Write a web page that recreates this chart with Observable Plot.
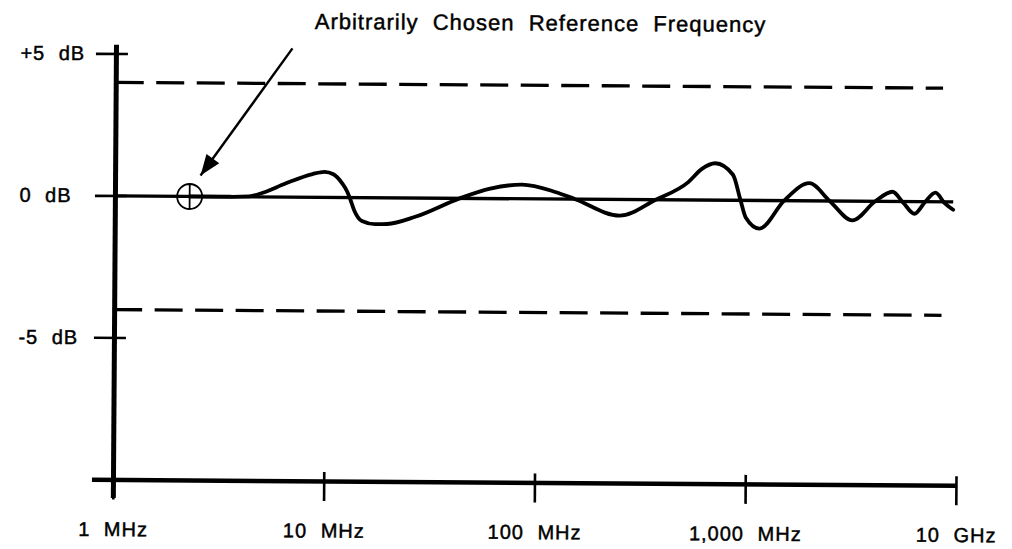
<!DOCTYPE html>
<html>
<head>
<meta charset="utf-8">
<script src="https://cdn.jsdelivr.net/npm/d3@7"></script>
<script src="https://cdn.jsdelivr.net/npm/@observablehq/plot@0.6"></script>
<style>
  html, body { margin: 0; padding: 0; background: #fff; }
  #chart svg { display: block; transform: rotate(0.4deg); transform-origin: 506px 274.5px; }
</style>
</head>
<body>
<div id="chart"></div>
<script>
// ---- data (frequency in MHz, response in dB) ----
const curveFreqMHz = [2.25, 3.5, 4.3, 5.0, 6.4, 8.6, 9.8, 10.8, 11.9, 12.6, 13.0, 13.6, 14.8, 17.1, 19.5, 26.5,
  43, 60, 85, 122, 152, 247, 366, 522, 603, 700, 850, 925, 980, 1140, 1490, 1960, 2450, 3140, 4030, 4860, 5480,
  6190, 6970, 7780, 8600, 9450];
const curveDb = [0, 0, 0.02, 0.15, 0.48, 0.82, 0.9, 0.82, 0.5, 0.2, -0.05, -0.45, -0.82, -0.93, -0.92, -0.66,
  0, 0.35, 0.5, 0.25, 0, -0.57, 0, 0.63, 1.09, 1.3, 0.9, 0, -0.6, -0.99, 0, 0.62, 0, -0.68, 0, 0.34, -0.05,
  -0.43, 0, 0.32, -0.05, -0.28];

const xTicks = [1, 10, 100, 1000, 10000];
const xTickLabels = ["1 MHz", "10 MHz", "100 MHz", "1,000 MHz", "10 GHz"];
const yTicks = [5, 0, -5, -10];
const yTickLabels = ["+5 dB", "0 dB", "-5 dB", ""];

const limitDb = [4, -4];
const limitEndMHz = 8430;
const zeroEndMHz = 9500;
const refFreqMHz = 2.25;
const noteText = "Arbitrarily Chosen Reference Frequency";
const noteAt = {f: 102.6, db: 6.18};
const arrowFrom = {f: 6.84, db: 5.24};
const arrowTo = {f: 2.53, db: 0.74};
const axisYExtent = [-10.65, 5.31];
const axisXStartMHz = 0.795;

const curve = curveFreqMHz.map((f, i) => ({f, db: curveDb[i]}));

// custom symbols
const arrowHead = {
  draw(ctx, size) {
    const L = 2 * Math.sqrt(size / Math.PI), w = 0.75 * L;
    ctx.moveTo(0, 0); ctx.lineTo(-w / 2, L); ctx.lineTo(w / 2, L); ctx.closePath();
  }
};
const crossCircle = {
  draw(ctx, size) {
    const r = Math.sqrt(size / Math.PI);
    ctx.moveTo(-r, 0); ctx.lineTo(r, 0);
    ctx.moveTo(0, -r); ctx.lineTo(0, r);
    ctx.moveTo(r, 0); ctx.arc(0, 0, r, 0, 2 * Math.PI);
  }
};

const font = "'Liberation Sans', Arial, Helvetica, sans-serif";
const textStyle = "letter-spacing:1px;word-spacing:7px;stroke:#000;stroke-width:0.45px;";

const chart = Plot.plot({
  width: 1012,
  height: 549,
  marginLeft: 114.4,
  marginRight: 54.6,
  marginTop: 56.2,
  marginBottom: 66.8,
  style: {fontFamily: font, color: "#000", background: "#fff", overflow: "visible"},
  x: {type: "log", domain: [1, 10000], axis: null},
  y: {domain: [-10, 5], axis: null},
  marks: [
    // tolerance limits
    Plot.ruleY(limitDb, {x1: 1, x2: limitEndMHz, stroke: "#000", strokeWidth: 3.3, strokeDasharray: "28,12.5"}),
    // zero reference line
    Plot.ruleY([0], {x1: 1, x2: zeroEndMHz, stroke: "#000", strokeWidth: 3.3}),
    // response curve
    Plot.line(curve, {x: "f", y: "db", curve: "monotone-x", stroke: "#000", strokeWidth: 3.8}),
    // reference frequency marker
    Plot.dot([refFreqMHz], {x: d => d, y: 0, r: 12.5, symbol: crossCircle, stroke: "#000", strokeWidth: 1.8, fill: "none"}),
    // arrow
    Plot.link([0], {x1: arrowFrom.f, y1: arrowFrom.db, x2: arrowTo.f, y2: arrowTo.db, stroke: "#000", strokeWidth: 2.4}),
    Plot.dot([0], {x: arrowTo.f, y: arrowTo.db, r: 10.5, symbol: arrowHead, rotate: 215.5, fill: "#000", stroke: "none"}),
    Plot.text([noteText], {x: noteAt.f, y: noteAt.db, text: d => d, fontSize: 22, fill: "#000"}),
    // axis lines
    Plot.ruleX([1], {y1: axisYExtent[0], y2: axisYExtent[1], stroke: "#000", strokeWidth: 5}),
    Plot.ruleY([-10], {x1: axisXStartMHz, x2: 10000, stroke: "#000", strokeWidth: 4.5}),
    // tick marks
    Plot.axisY(yTicks, {anchor: "left", label: null, tickSize: 32, dx: 12, tickFormat: () => "", stroke: "#000", strokeWidth: 2.6}),
    Plot.axisX(xTicks, {anchor: "bottom", label: null, tickSize: 29, dy: -9, tickFormat: () => "", stroke: "#000", strokeWidth: 2.6}),
    // tick labels
    Plot.axisY(yTicks, {anchor: "left", label: null, tickSize: 0, tickPadding: 96, textAnchor: "start",
      tickFormat: (d) => yTickLabels[yTicks.indexOf(d)], fontSize: 20, fill: "#000"}),
    Plot.axisX(xTicks, {anchor: "bottom", label: null, tickSize: 0, tickPadding: 42,
      tickFormat: (d) => xTickLabels[xTicks.indexOf(d)], fontSize: 20, fill: "#000"})
  ]
});
chart.querySelectorAll("g[aria-label='text'], g[aria-label='y-axis tick label'], g[aria-label='x-axis tick label']").forEach(g => {
  g.setAttribute("style", textStyle);
});
document.getElementById("chart").appendChild(chart);
</script>
</body>
</html>
